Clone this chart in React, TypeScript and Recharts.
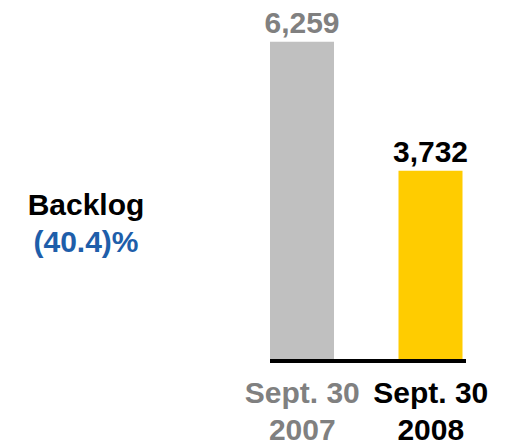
import { BarChart, Bar, XAxis, YAxis, Cell, LabelList } from 'recharts';

const periods = ['Sept. 30', 'Sept. 30'];
const years = ['2007', '2008'];
const backlog = [6259, 3732];
const barColors = ['#c0c0c0', '#ffcc00'];
const textColors = ['#808080', '#000000'];

const data = years.map((year, i) => ({ year, period: periods[i], value: backlog[i] }));

const FONT = '"Liberation Sans", Arial, sans-serif';

const YearTick = (props: any) => {
  const { x, y, payload, index } = props;
  const color = textColors[index] ?? '#000';
  return (
    <g>
      <text x={x} y={y + 40} textAnchor="middle" fill={color} fontSize={30} fontWeight="bold" fontFamily={FONT}>
        {periods[index]}
      </text>
      <text x={x} y={y + 77} textAnchor="middle" fill={color} fontSize={30} fontWeight="bold" fontFamily={FONT}>
        {payload.value}
      </text>
    </g>
  );
};

const ValueLabel = (props: any) => {
  const { x, y, width, value, index } = props;
  return (
    <text x={x + width / 2} y={y - 9} textAnchor="middle" fill={textColors[index]} fontSize={30} fontWeight="bold" fontFamily={FONT}>
      {Number(value).toLocaleString('en-US')}
    </text>
  );
};

const App = () => {
  return (
    <div style={{ position: 'absolute', left: 0, top: 0, width: 507, height: 445, background: '#fff' }}>
      <BarChart width={507} height={445} data={data} margin={{ top: 4, right: 41, bottom: 54, left: 270 }}>
        <XAxis
          dataKey="year"
          axisLine={{ stroke: '#000', strokeWidth: 4 }}
          tickLine={false}
          tickSize={0}
          padding={{ left: -32, right: -29 }}
          tick={<YearTick />}
          interval={0}
        />
        <YAxis hide domain={[0, 7000]} />
        <Bar dataKey="value" barSize={64} isAnimationActive={false}>
          {data.map((d, i) => (
            <Cell key={d.year} fill={barColors[i]} />
          ))}
          <LabelList dataKey="value" content={<ValueLabel />} />
        </Bar>
      </BarChart>
      <div style={{ position: 'absolute', left: 0, width: 172, top: 186, textAlign: 'center', fontFamily: FONT, fontWeight: 'bold', fontSize: 30, lineHeight: '37px' }}>
        <div style={{ color: '#000' }}>Backlog</div>
        <div style={{ color: '#1e5eaa' }}>(40.4)%</div>
      </div>
    </div>
  );
};

export default App;
